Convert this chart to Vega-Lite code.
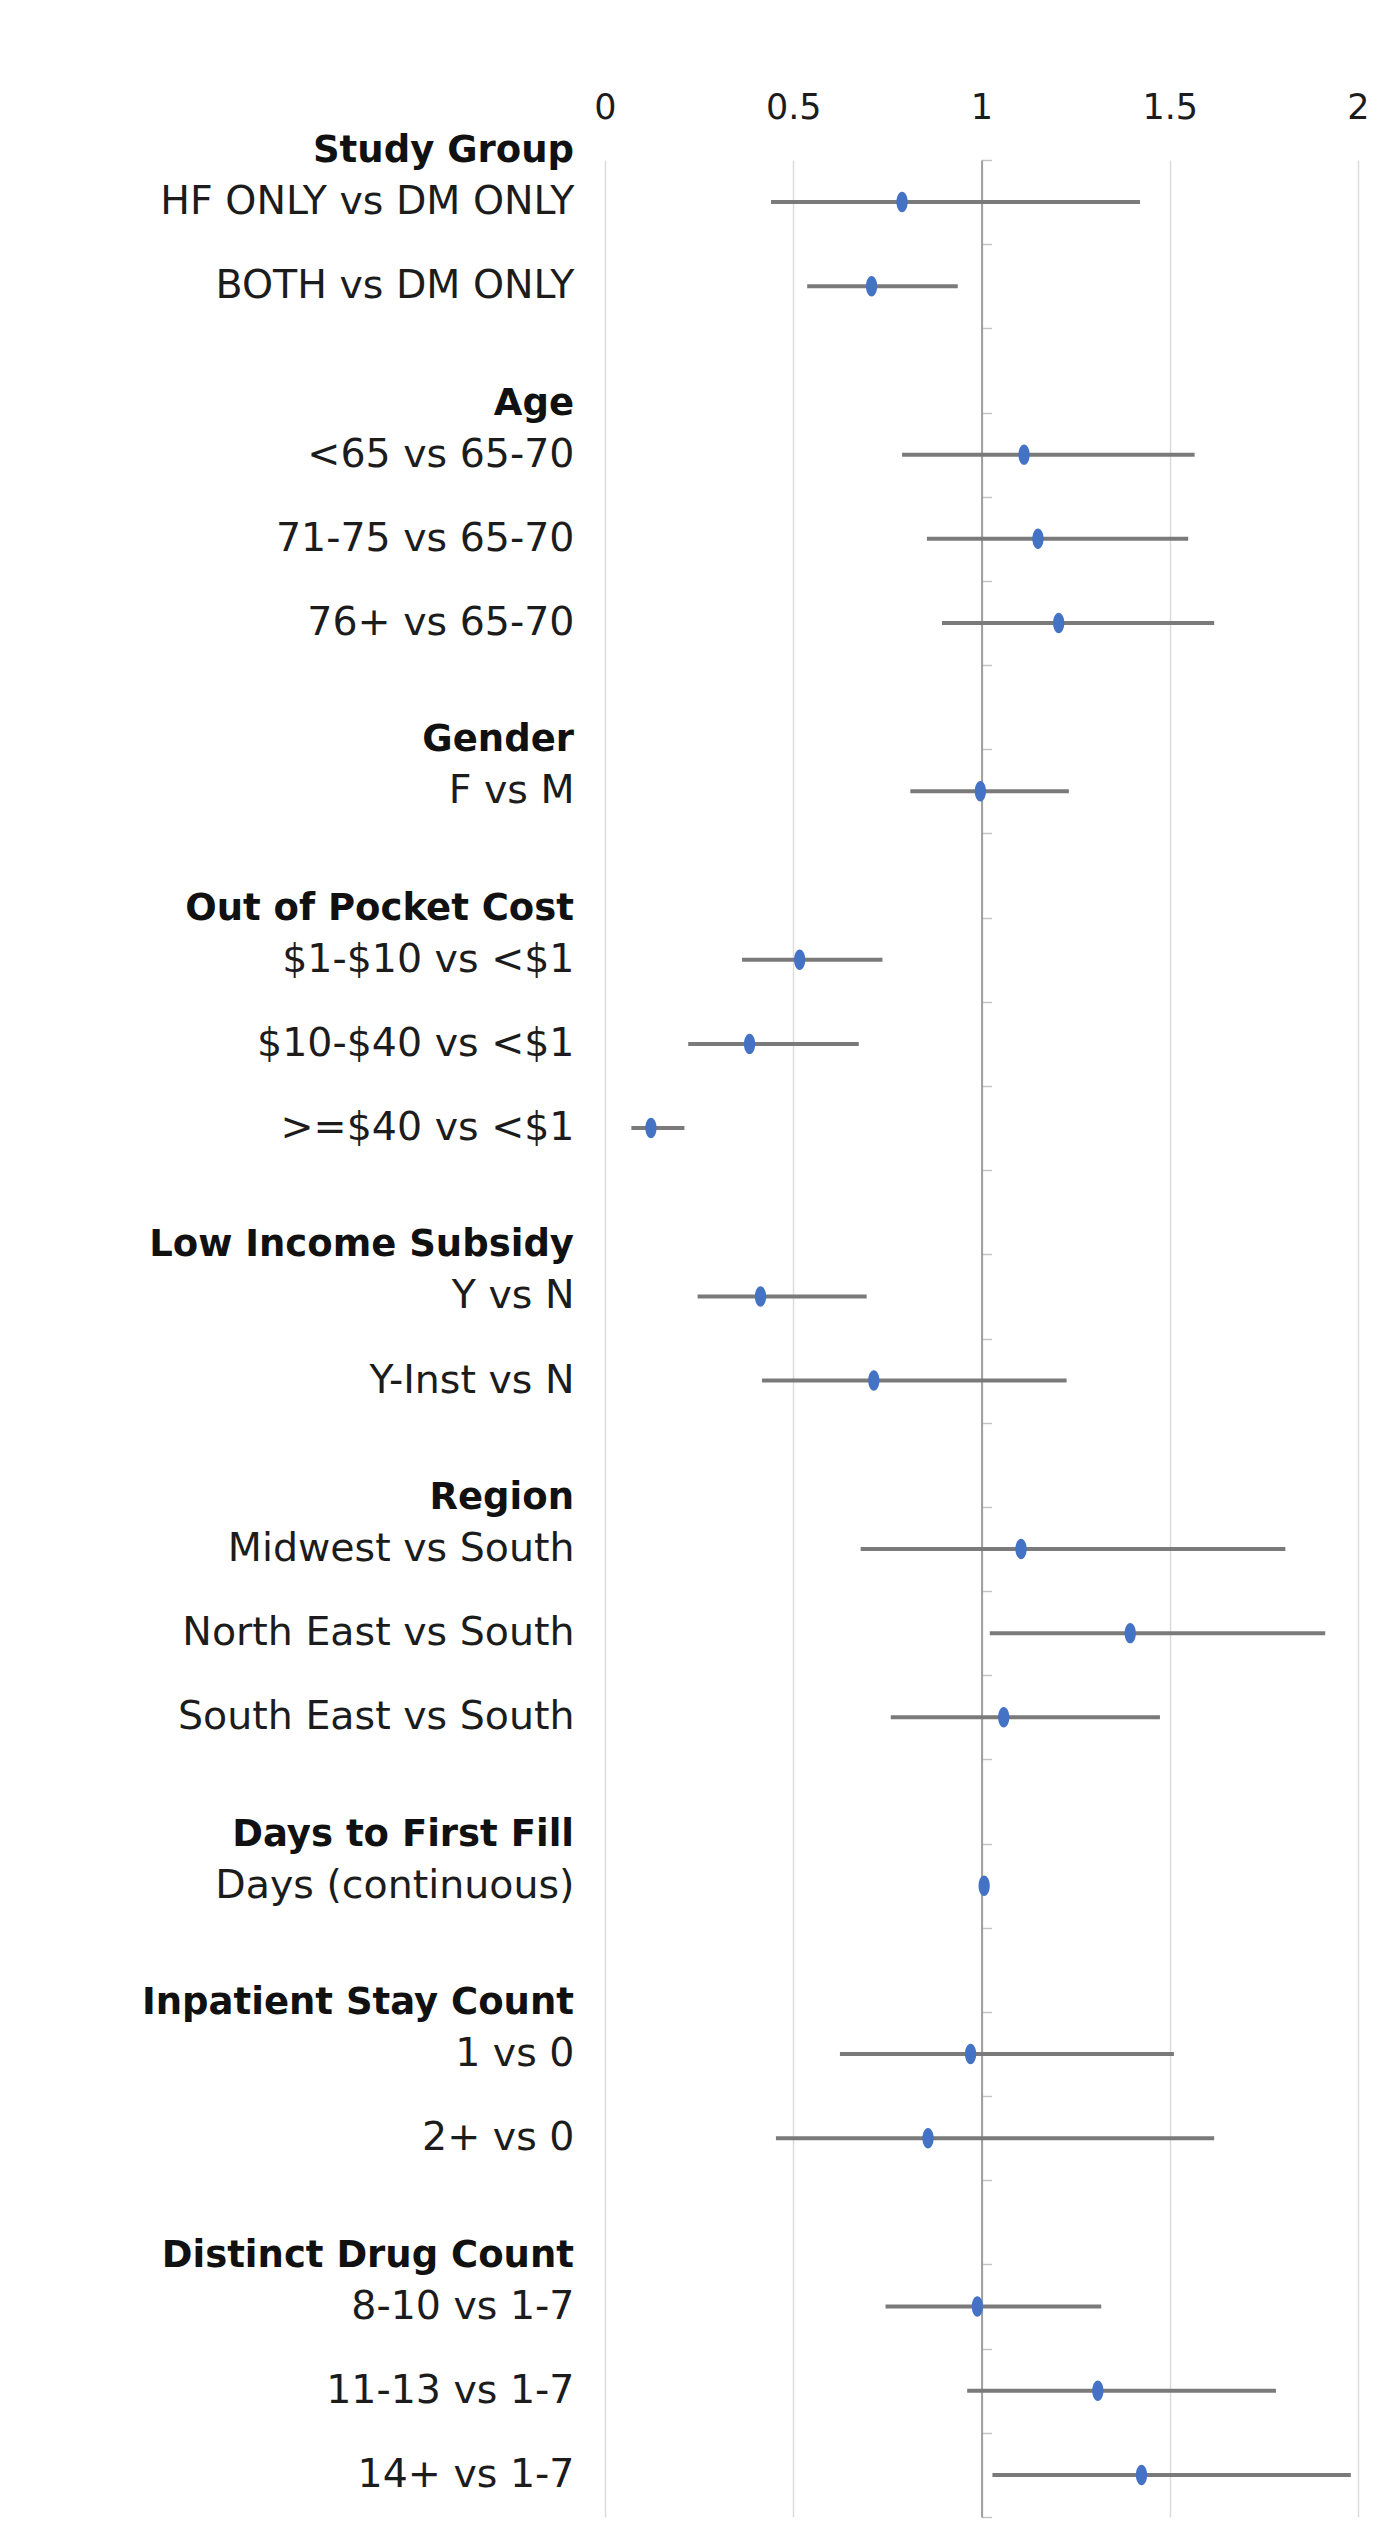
{
  "$schema": "https://vega.github.io/schema/vega-lite/v6.json",
  "autosize": "none",
  "width": 753,
  "height": 2357,
  "padding": {"left": 605, "top": 160, "right": 19, "bottom": 6},
  "background": "white",
  "config": {"view": {"stroke": null}},
  "data": {
    "values": [
      {"group": "Study Group", "label": "HF ONLY vs DM ONLY", "or": 0.789, "lo": 0.441, "hi": 1.421},
      {"group": "Study Group", "label": "BOTH vs DM ONLY", "or": 0.708, "lo": 0.537, "hi": 0.937},
      {"group": "Age", "label": "<65 vs 65-70", "or": 1.113, "lo": 0.789, "hi": 1.566},
      {"group": "Age", "label": "71-75 vs 65-70", "or": 1.150, "lo": 0.855, "hi": 1.549},
      {"group": "Age", "label": "76+ vs 65-70", "or": 1.205, "lo": 0.895, "hi": 1.618},
      {"group": "Gender", "label": "F vs M", "or": 0.997, "lo": 0.811, "hi": 1.232},
      {"group": "Out of Pocket Cost", "label": "$1-$10 vs <$1", "or": 0.517, "lo": 0.364, "hi": 0.737},
      {"group": "Out of Pocket Cost", "label": "$10-$40 vs <$1", "or": 0.384, "lo": 0.221, "hi": 0.674},
      {"group": "Out of Pocket Cost", "label": ">=$40 vs <$1", "or": 0.122, "lo": 0.070, "hi": 0.211},
      {"group": "Low Income Subsidy", "label": "Y vs N", "or": 0.413, "lo": 0.246, "hi": 0.695},
      {"group": "Low Income Subsidy", "label": "Y-Inst vs N", "or": 0.714, "lo": 0.417, "hi": 1.226},
      {"group": "Region", "label": "Midwest vs South", "or": 1.105, "lo": 0.679, "hi": 1.807},
      {"group": "Region", "label": "North East vs South", "or": 1.395, "lo": 1.022, "hi": 1.913},
      {"group": "Region", "label": "South East vs South", "or": 1.059, "lo": 0.759, "hi": 1.474},
      {"group": "Days to First Fill", "label": "Days (continuous)", "or": 1.007, "lo": 1.0, "hi": 1.012},
      {"group": "Inpatient Stay Count", "label": "1 vs 0", "or": 0.971, "lo": 0.624, "hi": 1.511},
      {"group": "Inpatient Stay Count", "label": "2+ vs 0", "or": 0.858, "lo": 0.454, "hi": 1.618},
      {"group": "Distinct Drug Count", "label": "8-10 vs 1-7", "or": 0.989, "lo": 0.745, "hi": 1.318},
      {"group": "Distinct Drug Count", "label": "11-13 vs 1-7", "or": 1.309, "lo": 0.962, "hi": 1.782},
      {"group": "Distinct Drug Count", "label": "14+ vs 1-7", "or": 1.425, "lo": 1.029, "hi": 1.981}
    ]
  },
  "layer": [
    {
      "mark": {"type": "rule", "color": "#7a7a7a", "strokeWidth": 4},
      "encoding": {
        "y": {
          "field": "label", "type": "nominal", "sort": null,
          "scale": {
            "domain": ["HF ONLY vs DM ONLY", "BOTH vs DM ONLY", " ",
                       "<65 vs 65-70", "71-75 vs 65-70", "76+ vs 65-70", "  ",
                       "F vs M", "   ",
                       "$1-$10 vs <$1", "$10-$40 vs <$1", ">=$40 vs <$1", "    ",
                       "Y vs N", "Y-Inst vs N", "     ",
                       "Midwest vs South", "North East vs South", "South East vs South", "      ",
                       "Days (continuous)", "       ",
                       "1 vs 0", "2+ vs 0", "        ",
                       "8-10 vs 1-7", "11-13 vs 1-7", "14+ vs 1-7"],
            "paddingInner": 0, "paddingOuter": 0
          },
          "axis": {
            "orient": "left", "title": null, "domain": false, "ticks": false, "tickSize": 0,
            "grid": false, "labelPadding": 31, "labelFont": "DejaVu Sans", "labelFontSize": 39.5,
            "labelColor": "#1c1c1c", "labelLimit": 700, "labelAlign": "right", "labelBaseline": "middle"
          }
        },
        "x": {
          "field": "lo", "type": "quantitative",
          "scale": {"domain": [0, 2], "nice": false, "zero": false},
          "axis": {
            "orient": "top", "title": null, "values": [0, 0.5, 1, 1.5, 2], "format": "~g",
            "domain": false, "ticks": false, "tickSize": 0,
            "grid": true, "gridColor": "#dcdcdc", "gridWidth": 1.5,
            "labelFont": "DejaVu Sans", "labelFontSize": 35, "labelColor": "#1c1c1c",
            "labelBaseline": "alphabetic", "labelPadding": 42, "labelFlush": false
          }
        },
        "x2": {"field": "hi"}
      }
    },
    {
      "mark": {
        "type": "point", "filled": true, "opacity": 1, "color": "#4472c4", "size": 420,
        "shape": "M0,-1 C0.3,-1 0.55,-0.552 0.55,0 C0.55,0.552 0.3,1 0,1 C-0.3,1 -0.55,0.552 -0.55,0 C-0.55,-0.552 -0.3,-1 0,-1 Z"
      },
      "encoding": {
        "y": {
          "field": "label", "type": "nominal", "sort": null,
          "axis": {
            "orient": "right", "offset": -376.5, "title": null, "labels": false,
            "domain": true, "domainColor": "#8a8a8a", "domainWidth": 1.5,
            "ticks": true, "tickBand": "extent", "tickSize": 10, "tickColor": "#c4c4c4", "tickWidth": 1.5,
            "grid": false
          }
        },
        "x": {"field": "or", "type": "quantitative"}
      }
    },
    {
      "transform": [
        {"window": [{"op": "row_number", "as": "rn"}], "groupby": ["group"]},
        {"filter": "datum.rn == 1"}
      ],
      "mark": {
        "type": "text", "align": "right", "baseline": "middle", "dx": -31, "dy": -51,
        "font": "DejaVu Sans", "fontWeight": "bold", "fontSize": 37, "color": "#111111"
      },
      "encoding": {
        "y": {"field": "label", "type": "nominal", "sort": null, "axis": null},
        "x": {"datum": 0},
        "text": {"field": "group"}
      }
    }
  ],
  "resolve": {"axis": {"y": "independent"}}
}
